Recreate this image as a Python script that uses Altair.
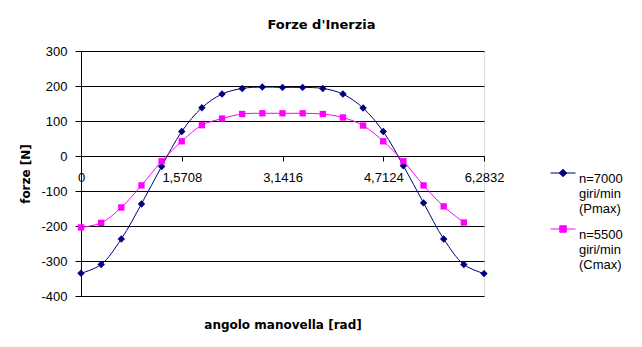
import altair as alt
import pandas as pd

# ---- data ----
angles = [0.0, 0.3142, 0.6283, 0.9425, 1.2566, 1.5708, 1.8850, 2.1991, 2.5133, 2.8274,
          3.1416, 3.4558, 3.7699, 4.0841, 4.3982, 4.7124, 5.0265, 5.3407, 5.6549, 5.9690, 6.2832]
f_7000 = [-335, -310, -237, -137, -30, 70, 138, 177, 193, 197,
          196, 196, 193, 177, 137, 70, -28, -134, -237, -310, -336]
f_5500 = [-204, -191, -147, -84, -15, 42, 88, 107, 120, 122,
          122, 122, 120, 110, 87, 42, -15, -84, -144, -190]
series_names = ["n=7000|giri/min|(Pmax)", "n=5500|giri/min|(Cmax)"]
series_colors = ["#000080", "#FF00FF"]
series_shapes = ["diamond", "square"]
series_sizes = [55, 40]
x_ticks = [0, 1.5708, 3.1416, 4.7124, 6.2832]
y_ticks = [-400, -300, -200, -100, 0, 100, 200, 300]

rows = []
for name, vals in zip(series_names, [f_7000, f_5500]):
    for a, v in zip(angles, vals):
        rows.append({"angle": a, "force": v, "series": name})
df = pd.DataFrame(rows)

LABEL_FONT = "Liberation Sans"
TITLE_FONT = "DejaVu Sans"

x_enc = alt.X(
    "angle:Q",
    scale=alt.Scale(domain=[0, 6.2832], nice=False, zero=False),
    axis=alt.Axis(
        values=x_ticks,
        labelExpr="datum.value == 0 ? '0' : replace(format(datum.value, '.4f'), '.', ',')",
        labelFlush=False,
        labelFont=LABEL_FONT, labelFontSize=13, labelColor="black",
        labelPadding=10, labelBaseline="top",
        tickSize=5, tickColor="black", domainColor="black",
        grid=False,
        offset=alt.ExprRef(expr="scale('y', 0) - height"),
        title="angolo manovella [rad]",
        titleFont=TITLE_FONT, titleFontSize=12, titleFontWeight="bold", titleColor="black",
        titleBaseline="alphabetic", titleY=172,
    ),
)
y_enc = alt.Y(
    "force:Q",
    scale=alt.Scale(domain=[-400, 300], nice=False, zero=False),
    axis=alt.Axis(
        values=y_ticks,
        labelExpr="'' + datum.value",
        labelFont=LABEL_FONT, labelFontSize=13, labelColor="black",
        labelPadding=8,
        tickSize=6, tickColor="black", domainColor="black",
        grid=True, gridColor="black", gridOpacity=1, gridWidth=1,
        title="forze [N]",
        titleFont=TITLE_FONT, titleFontSize=12, titleFontWeight="bold", titleColor="black",
        titleAngle=270, titleBaseline="middle", titleX=-56, titleY=122.5,
    ),
)

base = alt.Chart(df)

layers = []
for name, col in zip(series_names, series_colors):
    layers.append(
        base.transform_filter(alt.datum.series == name)
        .mark_line(interpolate="catmull-rom", strokeWidth=1, color=col)
        .encode(x=x_enc, y=y_enc)
    )
for name, col, shp, sz in zip(series_names, series_colors, series_shapes, series_sizes):
    layers.append(
        base.transform_filter(alt.datum.series == name)
        .mark_point(shape=shp, filled=True, size=sz, opacity=1, color=col)
        .encode(x=x_enc, y=y_enc)
    )

legend_paths = [
    "M-1,0H1M0,-0.3L0.3,0L0,0.3L-0.3,0Z",
    "M-1,0H1M-0.26,-0.26H0.26V0.26H-0.26Z",
]
leg = alt.Legend(
    orient="none", legendX=469, legendY=109, title=None,
    labelExpr="split(datum.label, '|')",
    labelFont=LABEL_FONT, labelFontSize=13, labelColor="black",
    labelBaseline="top", labelOffset=3,
    symbolSize=625, symbolStrokeWidth=1, symbolOpacity=1,
    rowPadding=-4,
)
legend_layer = base.transform_filter("false").mark_point(filled=True, opacity=1).encode(
    x=x_enc, y=y_enc,
    fill=alt.Fill("series:N", scale=alt.Scale(domain=series_names, range=series_colors), legend=leg),
    stroke=alt.Stroke("series:N", scale=alt.Scale(domain=series_names, range=series_colors), legend=leg),
    shape=alt.Shape("series:N", scale=alt.Scale(domain=series_names, range=legend_paths), legend=leg),
)
layers.append(legend_layer)

chart = alt.layer(*layers).properties(
    width=403,
    height=245,
    padding={"left": 81, "top": 51, "right": 158, "bottom": 51},
    autosize=alt.AutoSizeParams(type="none"),
    title=alt.TitleParams(
        "Forze d'Inerzia", font=TITLE_FONT, fontSize=13, fontWeight="bold", color="black",
        anchor="middle", dx=39, baseline="alphabetic", offset=3,
    ),
).configure_view(strokeWidth=0).configure(background="white")

chart.save("out.html", embed_options={"renderer": "svg", "actions": False})
